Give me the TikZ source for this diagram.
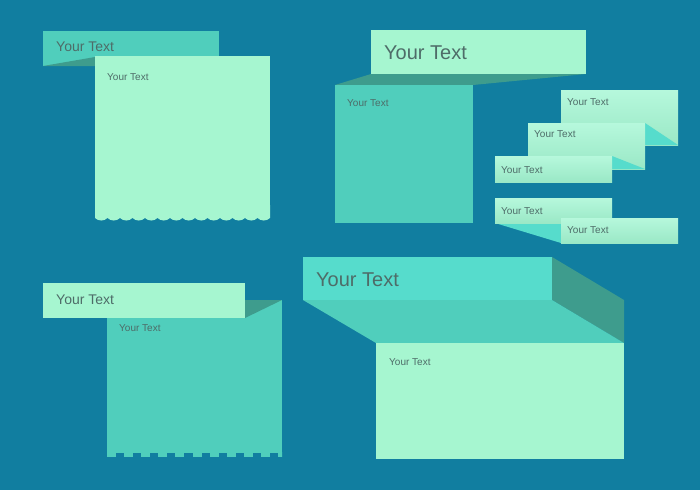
\documentclass[tikz,border=0pt]{standalone}
\usepackage{fontspec}
\setmainfont{Liberation Sans}
\definecolor{sea}{RGB}{17,126,160}
\definecolor{mint}{RGB}{166,246,208}
\definecolor{mintlight}{RGB}{182,248,220}
\definecolor{mintshade}{RGB}{154,232,198}
\definecolor{aqua}{RGB}{80,206,188}
\definecolor{aquabright}{RGB}{86,220,204}
\definecolor{aquadark}{RGB}{62,156,141}
\definecolor{txt}{RGB}{78,108,104}
\begin{document}
\begin{tikzpicture}[x=1pt, y=-1pt,
    txtnode/.style={anchor=west, text=txt, inner sep=0pt},
    txtsmall/.style={txtnode, font=\fontsize{10}{12}\selectfont},
    txtmid/.style={txtnode, font=\fontsize{14}{16}\selectfont},
    txtbig/.style={txtnode, font=\fontsize{20}{24}\selectfont},
    ribbon/.style={top color=mintlight, bottom color=mintshade}]
  \useasboundingbox (0,0) rectangle (700,490);
  \fill[sea] (0,0) rectangle (700,490); % Background

  % Top left: banner behind a scalloped card
  \fill[aqua] (43,31) rectangle (219,66);
  \fill[aquadark] (43,66) -- (95,57) -- (95,66) -- cycle;
  \fill[mint] (95,56) rectangle (270,218);
  \begin{scope}
    \clip (95,200) rectangle (270,230);
    \foreach \i in {0,...,13} \fill[mint] ({101.25+12.5*\i},211.5) circle (9); % Scallops
  \end{scope}
  \node[txtmid] (bannerA) at (56,47) {Your Text};
  \node[txtsmall] (cardA) at (107,77) {Your Text};

  % Top middle: wide banner over a square card
  \fill[aquadark] (335,85) -- (371,74) -- (586,74) -- (473,85) -- cycle;
  \fill[mint] (371,30) rectangle (586,74);
  \fill[aqua] (335,85) rectangle (473,223);
  \node[txtbig] (bannerB) at (384,53) {Your Text};
  \node[txtsmall] (cardB) at (347,103) {Your Text};

  % Right: stepped ribbons
  \fill[ribbon] (561,90) rectangle (678,145);
  \fill[aquabright] (645,123) -- (678,145) -- (645,145) -- cycle;
  \fill[ribbon] (528,123) rectangle (645,169);
  \fill[aquabright] (612,156) -- (645,169) -- (612,169) -- cycle;
  \fill[ribbon] (495,156) rectangle (612,182);
  \node[txtsmall] (stepA) at (567,102) {Your Text};
  \node[txtsmall] (stepB) at (534,134) {Your Text};
  \node[txtsmall] (stepC) at (501,170) {Your Text};

  % Right: folded ribbon pair
  \fill[aquabright] (495,223) -- (561,243) -- (561,223) -- cycle;
  \fill[ribbon] (495,198) rectangle (612,223);
  \fill[ribbon] (561,218) rectangle (678,243);
  \node[txtsmall] (foldA) at (501,211) {Your Text};
  \node[txtsmall] (foldB) at (567,230) {Your Text};

  % Bottom left: banner over a notched card
  \fill[aqua] (107,300) rectangle (282,453);
  \begin{scope}
    \clip (107,440) rectangle (282,460);
    \foreach \i in {0,...,10} \fill[aqua] ({107+17.1*\i},452) rectangle +(9,5); % Teeth
  \end{scope}
  \fill[aquadark] (245,300) -- (282,300) -- (245,318) -- cycle;
  \fill[mint] (43,283) rectangle (245,318);
  \node[txtmid] (bannerC) at (56,300) {Your Text};
  \node[txtsmall] (cardC) at (119,328) {Your Text};

  % Bottom right: box with open lid
  \fill[aquabright] (303,257) rectangle (552,300);
  \fill[aquadark] (552,257) -- (624,300) -- (624,343) -- (552,300) -- cycle;
  \fill[aqua] (303,300) -- (552,300) -- (624,343) -- (376,343) -- cycle;
  \fill[mint] (376,343) rectangle (624,459);
  \node[txtbig] (bannerD) at (316,280) {Your Text};
  \node[txtsmall] (cardD) at (389,362) {Your Text};
\end{tikzpicture}
\end{document}
